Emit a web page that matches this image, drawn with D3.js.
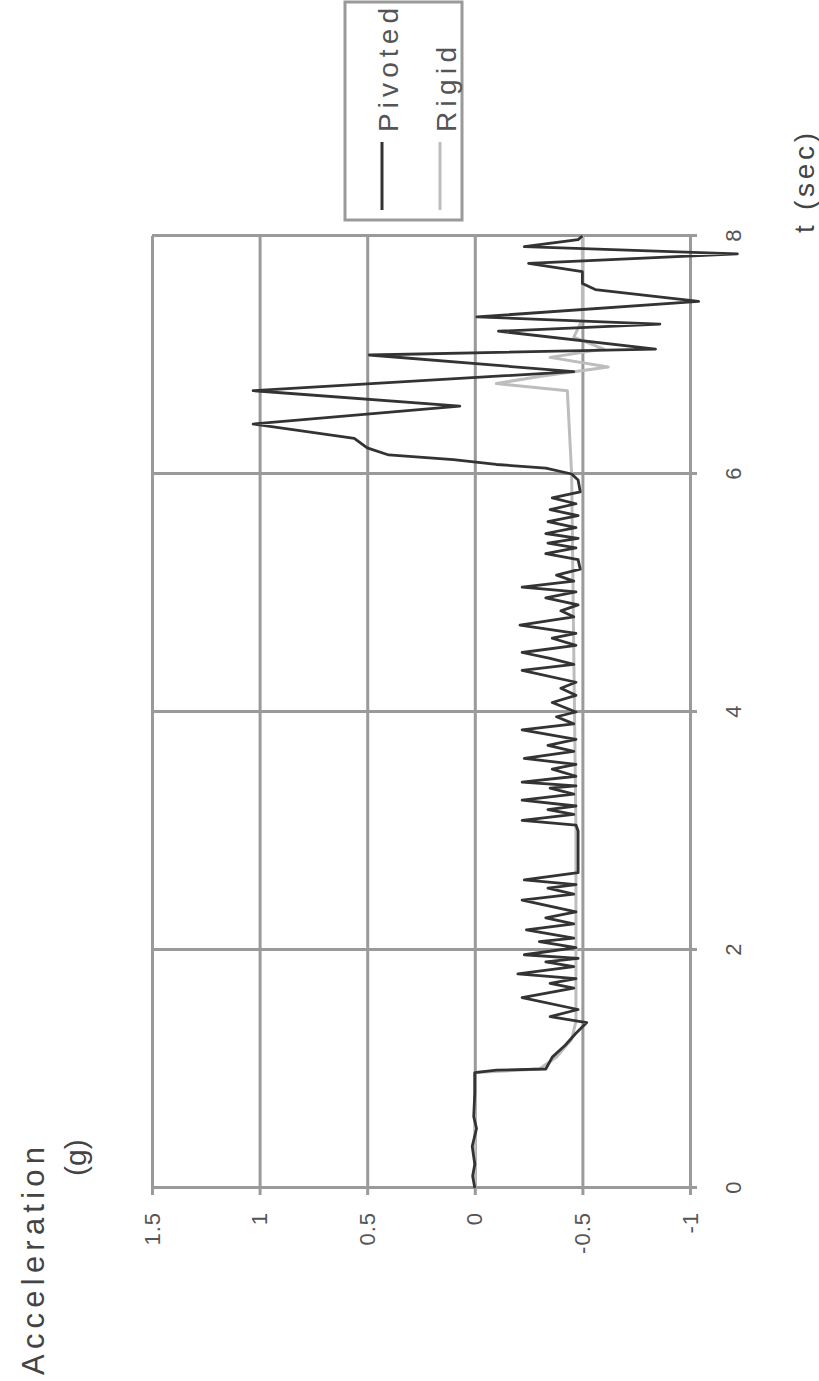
<!DOCTYPE html>
<html><head><meta charset="utf-8">
<script src="https://cdn.jsdelivr.net/npm/d3@7"></script>
<style>body{margin:0;background:#fff}svg{display:block}</style>
</head><body>
<svg id="c" width="819" height="1381"></svg>
<script>
// ---- data ----
const timeTicks = [0, 2, 4, 6, 8];
const accTicks = [1.5, 1, 0.5, 0, -0.5, -1];
const seriesNames = ["Pivoted", "Rigid"];
const seriesColors = ["#333333", "#bdbdbd"];
const yTitle = ["Acceleration", "(g)"];
const xTitle = "t (sec)";

// Pivoted: [time (s), acceleration (g)]
const pivoted = [
  [0,0],[0.1,0.01],[0.2,0.0],[0.35,0.012],[0.5,-0.008],[0.6,0.005],[0.8,0.0],[0.97,0.0],
  [0.99,-0.1],[1.0,-0.33],[1.1,-0.36],[1.2,-0.42],[1.3,-0.47],[1.39,-0.52],[1.44,-0.35],
  [1.5,-0.48],[1.6,-0.22],[1.68,-0.46],[1.72,-0.35],[1.76,-0.47],[1.8,-0.2],[1.86,-0.46],
  [1.9,-0.33],[1.93,-0.48],[1.96,-0.23],[2.02,-0.47],[2.07,-0.3],[2.1,-0.46],[2.17,-0.24],
  [2.22,-0.46],[2.27,-0.33],[2.32,-0.47],[2.42,-0.22],[2.47,-0.46],[2.52,-0.34],[2.55,-0.47],
  [2.59,-0.23],[2.65,-0.48],[2.7,-0.48],[3.0,-0.48],[3.05,-0.47],[3.09,-0.22],[3.14,-0.46],
  [3.18,-0.34],[3.21,-0.47],[3.26,-0.22],[3.31,-0.46],[3.36,-0.35],[3.38,-0.47],[3.41,-0.22],
  [3.46,-0.47],[3.52,-0.36],[3.56,-0.47],[3.61,-0.23],[3.67,-0.46],[3.72,-0.34],[3.77,-0.47],
  [3.85,-0.22],[3.9,-0.46],[3.96,-0.38],[4.0,-0.47],[4.08,-0.36],[4.14,-0.47],[4.2,-0.4],
  [4.25,-0.47],[4.35,-0.22],[4.4,-0.46],[4.45,-0.35],[4.5,-0.22],[4.56,-0.47],[4.62,-0.36],
  [4.66,-0.47],[4.73,-0.21],[4.8,-0.46],[4.85,-0.4],[4.9,-0.48],[4.96,-0.33],[5.01,-0.47],
  [5.05,-0.22],[5.1,-0.46],[5.15,-0.38],[5.2,-0.49],[5.28,-0.48],[5.33,-0.33],[5.38,-0.47],
  [5.42,-0.34],[5.46,-0.48],[5.5,-0.33],[5.55,-0.47],[5.6,-0.34],[5.65,-0.48],[5.7,-0.35],
  [5.75,-0.47],[5.8,-0.36],[5.85,-0.49],[5.95,-0.48],[6.0,-0.45],[6.05,-0.33],[6.08,-0.1],
  [6.12,0.1],[6.16,0.4],[6.22,0.5],[6.3,0.56],[6.42,1.03],[6.57,0.07],[6.7,1.03],[6.86,-0.46],
  [7.0,0.49],[7.05,-0.84],[7.2,-0.11],[7.26,-0.86],[7.32,-0.01],[7.45,-1.04],[7.55,-0.56],
  [7.6,-0.5],[7.7,-0.5],[7.77,-0.25],[7.85,-1.22],[7.91,-0.23],[7.97,-0.48],[8.0,-0.5]
];
// Rigid: [time (s), acceleration (g)]
const rigid = [
  [0,0],[0.97,0.0],[1.0,-0.3],[1.1,-0.38],[1.25,-0.45],[1.4,-0.47],[3.0,-0.47],[6.0,-0.45],
  [6.7,-0.43],[6.76,-0.1],[6.82,-0.3],[6.9,-0.62],[6.98,-0.35],[7.05,-0.6],[7.15,-0.46],
  [7.3,-0.5],[8.0,-0.5]
];

// ---- layout (chart drawn in normal orientation, then rotated -90deg) ----
const W = 952, H = 538;
const svg = d3.select("#c");
const g = svg.append("g").attr("transform", "translate(152,1188) rotate(-90)");
const x = d3.scaleLinear().domain([0, 8]).range([0, W]);
const y = d3.scaleLinear().domain([-1, 1.5]).range([H, 0]);
const font = "'Liberation Sans', Arial, sans-serif";
const gridColor = "#9a9a9a";

// acceleration gridlines + labels
const ya = g.append("g").attr("transform", "translate(-7,0)")
  .call(d3.axisLeft(y).tickValues(accTicks).tickSize(-(W + 7)).tickPadding(17)
        .tickFormat(d => String(d)));
ya.select(".domain").remove();
ya.selectAll(".tick line").attr("stroke", gridColor).attr("stroke-width", 3);
ya.selectAll(".tick text").attr("font-family", font).attr("font-size", 22)
  .attr("letter-spacing", "1px").attr("fill", "#555");

// time gridlines + labels
const xa = g.append("g").attr("transform", `translate(0,${H + 7})`)
  .call(d3.axisBottom(x).tickValues(timeTicks).tickSize(-(H + 7)).tickPadding(28)
        .tickFormat(d => String(d)));
xa.select(".domain").remove();
xa.selectAll(".tick line").attr("stroke", gridColor).attr("stroke-width", 3);
xa.selectAll(".tick text").attr("font-family", font).attr("font-size", 22).attr("fill", "#555");

// series
const line = d3.line().x(d => x(d[0])).y(d => y(d[1]));
g.append("path").datum(rigid).attr("d", line).attr("fill", "none")
  .attr("stroke", seriesColors[1]).attr("stroke-width", 3).attr("stroke-linejoin", "round");
g.append("path").datum(pivoted).attr("d", line).attr("fill", "none")
  .attr("stroke", seriesColors[0]).attr("stroke-width", 2.8).attr("stroke-linejoin", "round");

// axis titles
g.append("text").attr("x", -187).attr("y", -108).text(yTitle[0])
  .attr("font-family", font).attr("font-size", 31).attr("fill", "#444")
  .attr("textLength", 228).attr("lengthAdjust", "spacing");
g.append("text").attr("x", 12).attr("y", -66).text(yTitle[1])
  .attr("font-family", font).attr("font-size", 30).attr("fill", "#444");
g.append("text").attr("x", 955).attr("y", 662).text(xTitle)
  .attr("font-family", font).attr("font-size", 28).attr("fill", "#444")
  .attr("textLength", 100).attr("lengthAdjust", "spacing");

// legend
const lg = g.append("g");
lg.append("rect").attr("x", 968).attr("y", 193).attr("width", 218).attr("height", 117)
  .attr("fill", "#fff").attr("stroke", gridColor).attr("stroke-width", 3);
const legV = [230, 288];
const legLen = [124, 85];
seriesNames.forEach((n, i) => {
  lg.append("line").attr("x1", 978).attr("x2", 1046).attr("y1", legV[i]).attr("y2", legV[i])
    .attr("stroke", seriesColors[i]).attr("stroke-width", 3);
  lg.append("text").attr("x", 1056).attr("y", legV[i] + 6).attr("dominant-baseline", "central")
    .text(n).attr("font-family", font).attr("font-size", 28).attr("fill", "#555")
    .attr("textLength", legLen[i]).attr("lengthAdjust", "spacing");
});
</script>
</body></html>
